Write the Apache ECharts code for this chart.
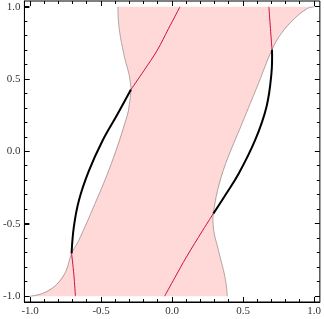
<!DOCTYPE html>
<html>
<head>
<meta charset="utf-8">
<script src="https://cdn.jsdelivr.net/npm/echarts@6/dist/echarts.min.js"></script>
<style>html,body{margin:0;padding:0;background:#fff}#c{width:324px;height:319px}</style>
</head>
<body>
<div id="c"></div>
<script>
// Tick values and labels
const majorTicks = [-1, -0.5, 0, 0.5, 1];
const tickLabels = ['-1.0', '-0.5', '0.0', '0.5', '1.0'];
const minorTicks = [-0.9, -0.8, -0.7, -0.6, -0.4, -0.3, -0.2, -0.1, 0.1, 0.2, 0.3, 0.4, 0.6, 0.7, 0.8, 0.9];

// Left boundary of shaded region (bottom to top)
const leftBoundary = [
  [-1.0, -1.0], [-0.91, -0.98], [-0.819, -0.924], [-0.75, -0.832], [-0.708, -0.705],
  [-0.657, -0.613], [-0.543, -0.36], [-0.428, -0.083], [-0.316, 0.25], [-0.298, 0.35],
  [-0.29, 0.428], [-0.295, 0.48], [-0.305, 0.54], [-0.33, 0.63], [-0.35, 0.72],
  [-0.368, 0.815], [-0.378, 0.9], [-0.382, 1.0]
];
// Right boundary of shaded region (bottom to top)
const rightBoundary = [
  [0.388, -1.0], [0.382, -0.93], [0.366, -0.84], [0.343, -0.75], [0.32, -0.66],
  [0.297, -0.57], [0.287, -0.48], [0.29, -0.429], [0.32, -0.268], [0.377, -0.083],
  [0.492, 0.193], [0.607, 0.469], [0.703, 0.704], [0.768, 0.815], [0.86, 0.918],
  [0.952, 0.988], [1.0, 1.0]
];
// Black arcs (outside region)
const blackLeft = [
  [-0.708, -0.705], [-0.692, -0.521], [-0.656, -0.337], [-0.587, -0.136],
  [-0.492, 0.071], [-0.385, 0.257], [-0.29, 0.428]
];
const blackRight = [
  [0.29, -0.429], [0.366, -0.314], [0.469, -0.152], [0.584, 0.078],
  [0.664, 0.308], [0.699, 0.539], [0.703, 0.704]
];
// Red curve pieces (inside region)
const redA1 = [[-0.681, -1.0], [-0.692, -0.85], [-0.708, -0.705]];
const redA2 = [[-0.29, 0.428], [-0.198, 0.56], [-0.106, 0.698], [-0.026, 0.848], [0.055, 1.0]];
const redB1 = [[-0.053, -1.0], [0.02, -0.87], [0.1, -0.73], [0.216, -0.544], [0.29, -0.429]];
const redB2 = [[0.703, 0.704], [0.692, 0.85], [0.681, 1.0]];

const regionPolygon = leftBoundary.concat(rightBoundary.slice().reverse());

const AMIN = -1.04, AMAX = 1.04;
const MAJOR_LEN = 5, MINOR_LEN = 3;
const labelFont = {fontFamily: 'Liberation Serif', fontSize: 11, color: '#333'};
const fmt = v => { const i = majorTicks.findIndex(t => Math.abs(t - v) < 1e-9); return i >= 0 ? tickLabels[i] : ''; };

function axis(pos) {
  return {
    type: 'value', min: AMIN, max: AMAX, position: pos,
    axisLine: {show: true, onZero: false, lineStyle: {color: '#000', width: 1}},
    splitLine: {show: false},
    axisTick: {inside: true, length: MAJOR_LEN, customValues: majorTicks},
    axisLabel: Object.assign({show: true, customValues: majorTicks, formatter: fmt, margin: 4}, labelFont)
  };
}

function curve(data, color, width, z) {
  return {type: 'custom', data: [0], silent: true, z: z,
    renderItem: function (params, api) {
      return {type: 'polyline', shape: {points: data.map(p => api.coord(p)), smooth: 0.4},
        style: {stroke: color, lineWidth: width, fill: null}};
    }};
}

// Frame ticks on all four sides, placed through the axes' scales
const snap = v => Math.round(v - 0.5) + 0.5;
const tickSeries = {
  type: 'custom', data: [0], silent: true, z: 10,
  renderItem: function (params, api) {
    const children = [];
    const seg = (x1, y1, x2, y2) => children.push({type: 'line',
      shape: {x1: x1, y1: y1, x2: x2, y2: y2}, style: {stroke: '#000', lineWidth: 1}});
    const add = (v, len) => {
      const b = api.coord([v, AMIN]), t = api.coord([v, AMAX]);
      const l = api.coord([AMIN, v]), r = api.coord([AMAX, v]);
      const bx = snap(b[0]), ly = snap(l[1]);
      seg(bx, b[1], bx, b[1] - len);
      seg(bx, t[1], bx, t[1] + len);
      seg(l[0], ly, l[0] + len, ly);
      seg(r[0], ly, r[0] - len, ly);
    };
    majorTicks.forEach(v => add(v, MAJOR_LEN));
    minorTicks.forEach(v => add(v, MINOR_LEN));
    return {type: 'group', children: children};
  }
};

const chart = echarts.init(document.getElementById('c'), null, {renderer: 'canvas'});
chart.setOption({
  animation: false,
  grid: {left: 21, top: 1, width: 302, height: 301, show: true, borderColor: '#000', borderWidth: 1, backgroundColor: 'transparent'},
  xAxis: [axis('bottom')],
  yAxis: [axis('left')],
  series: [
    {type: 'custom', data: [0], silent: true, z: 1,
      renderItem: function (params, api) {
        const pts = regionPolygon.map(p => api.coord(p));
        return {type: 'polygon', shape: {points: pts}, style: {fill: '#ffd8d8', stroke: null}};
      }},
    curve(leftBoundary, '#a09090', 0.8, 2),
    curve(rightBoundary, '#a09090', 0.8, 2),
    curve(blackLeft, '#000', 2, 3),
    curve(blackRight, '#000', 2, 3),
    curve(redA1, '#d0103a', 1, 4),
    curve(redA2, '#d0103a', 1, 4),
    curve(redB1, '#d0103a', 1, 4),
    curve(redB2, '#d0103a', 1, 4),
    tickSeries
  ]
});
</script>
</body>
</html>
